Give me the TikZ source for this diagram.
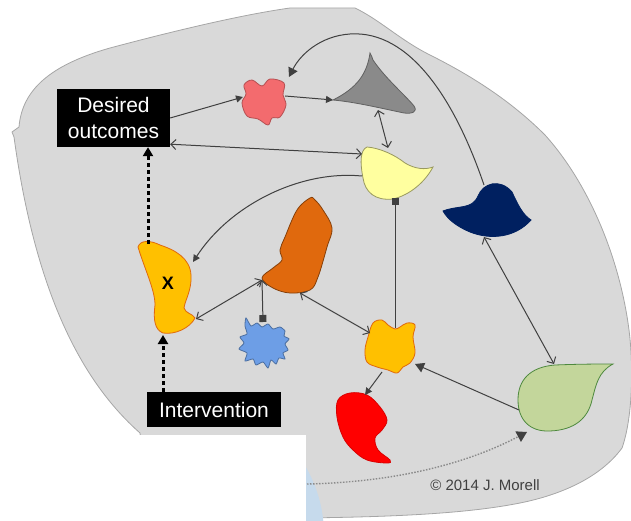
\documentclass[tikz,border=0pt]{standalone}
\usepackage{fontspec}
\setmainfont{Liberation Sans}
\usetikzlibrary{arrows.meta}
\usetikzlibrary{positioning}
\definecolor{mbg}{HTML}{D9D9D9}
\definecolor{mbgline}{HTML}{A6A6A6}
\definecolor{mline}{HTML}{404040}
\definecolor{mpink}{HTML}{F36B6E}
\definecolor{mgrey}{HTML}{8A8A8A}
\definecolor{mlemon}{HTML}{FFFF9F}
\definecolor{mnavy}{HTML}{002060}
\definecolor{mrust}{HTML}{E0690D}
\definecolor{msky}{HTML}{6D9EE6}
\definecolor{mgold}{HTML}{FFC000}
\definecolor{mred}{HTML}{FF0000}
\definecolor{msage}{HTML}{C3D69B}
\definecolor{mice}{HTML}{C6DAEC}
\tikzset{
  blob/.style 2 args = {fill=#1, draw=#2, line width=0.8pt},
  textbox/.style = {fill=black, text=white, align=center, inner sep=0,
    font=\fontsize{21}{25.5}\selectfont},
  sbarb/.tip = {Straight Barb[length=5pt, width=10pt]},
  stri/.tip = {Triangle[length=7pt, width=7pt]},
  btri/.tip = {Triangle[length=9pt, width=10pt]},
  sq/.tip = {Square[length=7pt, width=7pt]},
  link/.style = {draw=mline, line width=1pt},
  oneway/.style = {link, -stri},
  bigway/.style = {link, -btri},
  twoway/.style = {link, sbarb-sbarb},
  fromsq/.style = {link, sq-sbarb},
  dotlink/.style = {draw=black, line width=3pt, dash pattern=on 4pt off 3pt, -btri},
  faint/.style = {draw=mgrey, line width=1.4pt, dash pattern=on 1.5pt off 1.5pt, -{Triangle[length=10pt, width=12pt, fill=mline, line width=0pt]}}
}

\begin{document}
\begin{tikzpicture}[x=1pt, y=-1pt]
  \useasboundingbox (0,0) rectangle (631,521);

  \draw[fill=mbg, draw=mbgline, line width=0.8pt] (12,132) -- (19,127)
    .. controls (22,90) and (50,65) .. (110,48)
    .. controls (170,32) and (240,15) .. (290,8) -- (355,8)
    .. controls (380,20) and (400,40) .. (430,55)
    .. controls (470,75) and (510,100) .. (545,135)
    .. controls (590,185) and (620,260) .. (629,330)
    .. controls (634,370) and (632,420) .. (622,448)
    .. controls (600,478) and (560,495) .. (520,503)
    .. controls (470,513) and (400,517) .. (300,518) -- (150,518) -- (140,433)
    .. controls (80,380) and (35,290) .. (14,137) -- cycle;
  \begin{scope}
    \clip (300,462) rectangle (340,521);
    \fill[mice] (188,535) circle (136);
  \end{scope}
  \fill[white] (0,435) rectangle (306,521);

  \draw[blob={mpink}{mpink!75!black}] plot[smooth cycle, tension=0.6] coordinates
    {(244,85) (252,80) (262,86) (270,79) (284,83) (283,95) (286,105) (280,117)
     (272,118) (268,125) (258,119) (247,116) (242,103) (246,94)};
  \draw[blob={mgrey}{mgrey!70!black}] (333,100) .. controls (357,88) and (367,74) .. (370,53)
    .. controls (372,56) and (372,58) .. (373,60)
    .. controls (385,78) and (405,95) .. (414,106)
    .. controls (418,112) and (412,114) .. (404,113)
    .. controls (380,108) and (355,102) .. cycle;
  \draw[blob={mlemon}{mlemon!60!black}] (367,147) .. controls (380,148) and (395,155) .. (405,163)
    .. controls (415,169) and (425,170) .. (433,167)
    .. controls (425,182) and (410,195) .. (393,199)
    .. controls (375,201) and (365,192) .. (363,178)
    .. controls (360,163) and (360,150) .. cycle;
  \draw[blob={mnavy}{mnavy}] (443,211) .. controls (458,205) and (472,210) .. (478,196)
    .. controls (483,183) and (500,178) .. (512,192)
    .. controls (518,205) and (523,215) .. (531,220)
    .. controls (515,238) and (490,240) .. (470,232)
    .. controls (458,227) and (448,220) .. cycle;
  \draw[blob={mrust}{mrust!60!black}] plot[smooth cycle, tension=0.6] coordinates
    {(310,198) (297,210) (285,237) (280,250) (282,260) (273,268) (262,278) (273,288)
     (290,293) (310,290) (318,277) (327,247) (332,228) (323,210) (315,200)};
  \draw[blob={msky}{msky!70!black}] plot[smooth cycle, tension=0.4] coordinates
    {(246,318) (251,326) (257,323) (262,327) (268,324) (273,329) (280,327) (285,331)
     (284,336) (289,339) (285,344) (288,350) (283,353) (285,359) (279,358) (276,364)
     (271,360) (268,368) (263,362) (256,365) (253,359) (245,361) (247,353) (239,349)
     (244,343) (240,337) (247,334) (245,326)};
  \draw[blob={mgold}{mrust}] (138,247) .. controls (140,240) and (150,240) .. (160,245)
    .. controls (175,250) and (190,258) .. (191,275)
    .. controls (192,290) and (185,300) .. (184,308)
    .. controls (186,314) and (192,313) .. (195,318)
    .. controls (190,328) and (175,335) .. (163,333)
    .. controls (155,330) and (153,320) .. (155,305)
    .. controls (155,290) and (145,270) .. cycle;
  \draw[blob={mgold}{mrust}] plot[smooth cycle, tension=0.6] coordinates
    {(373,323) (382,320) (388,325) (395,329) (400,327) (407,323) (415,325) (413,337)
     (415,353) (410,363) (403,367) (397,373) (388,370) (377,367) (367,362) (365,350)
     (368,337)};
  \draw[blob={mred}{mred!85!black}] plot[smooth cycle, tension=0.6] coordinates
    {(350,393) (367,395) (380,407) (387,420) (382,430) (375,438) (378,450) (390,460)
     (387,463) (367,460) (353,450) (343,437) (337,417) (338,400)};
  \draw[blob={msage}{msage!50!black!80!green}] (518,400) .. controls (518,380) and (530,367) .. (555,365)
    .. controls (580,364) and (600,364) .. (613,364)
    .. controls (598,372) and (596,385) .. (592,400)
    .. controls (588,418) and (575,430) .. (550,431)
    .. controls (530,432) and (518,420) .. cycle;

  \node[textbox, minimum width=113pt, minimum height=58pt] (desired) at (113.5,118) {Desired\\outcomes};
  \node[textbox, minimum width=134pt, minimum height=35pt] (interv) at (214,409.5) {Intervention};
  \node[font=\fontsize{18}{18}\selectfont\bfseries] (xmark) at (168,283) {X};
  \node[mline, font=\fontsize{15}{18}\selectfont] (copy) at (485,485) {© 2014 J. Morell};

  \coordinate (pink-w) at (243,97);
  \coordinate (pink-e) at (285,96);
  \coordinate (pink-ne) at (289,77);
  \coordinate (grey-w) at (333,100);
  \coordinate (grey-s) at (378,110);
  \coordinate (lemon-n) at (388,148);
  \coordinate (lemon-w) at (362,154);
  \coordinate (lemon-sw) at (362,176);
  \coordinate (lemon-s) at (395,198);
  \coordinate (navy-n) at (484,185);
  \coordinate (navy-s) at (484,237);
  \coordinate (rust-w) at (262,280);
  \coordinate (rust-s) at (300,293);
  \coordinate (sky-n) at (263,322);
  \coordinate (xs-n) at (148,244);
  \coordinate (xs-ne) at (193,262);
  \coordinate (xs-e) at (196,319);
  \coordinate (xs-s) at (163,335);
  \coordinate (gold-n) at (395,328);
  \coordinate (gold-w) at (370,333);
  \coordinate (gold-e) at (415,364);
  \coordinate (gold-sw) at (382,372);
  \coordinate (red-n) at (365,395);
  \coordinate (sage-n) at (554,364);
  \coordinate (sage-w) at (519,410);
  \coordinate (sage-sw) at (527,432);
  \coordinate (dotstart) at (307,484);

  \draw[oneway] (desired.east) -- (pink-w);
  \draw[oneway] (pink-e) -- (grey-w);
  \draw[twoway] ([yshift=3pt]desired.south east) -- (lemon-w);
  \draw[twoway] (grey-s) -- (lemon-n);
  \draw[bigway] (navy-n) .. controls (455,100) and (410,30) .. (350,34)
    .. controls (320,36) and (300,55) .. (pink-ne);
  \draw[oneway] (lemon-sw) .. controls (300,170) and (230,205) .. (xs-ne);
  \draw[twoway] (rust-w) -- (xs-e);
  \draw[fromsq] (sky-n) -- (rust-w);
  \draw[twoway] (rust-s) -- (gold-w);
  \draw[link, sq-] (lemon-s) -- (gold-n);
  \draw[oneway] (gold-sw) -- (red-n);
  \draw[bigway] (sage-w) -- (gold-e);
  \draw[twoway] (navy-s) -- (sage-n);
  \draw[faint] (dotstart) .. controls (400,482) and (470,462) .. (sage-sw);
  \draw[dotlink] (xs-n) -- (desired.south -| xs-n);
  \draw[dotlink] (interv.north -| xs-s) -- (xs-s);
\end{tikzpicture}
\end{document}
